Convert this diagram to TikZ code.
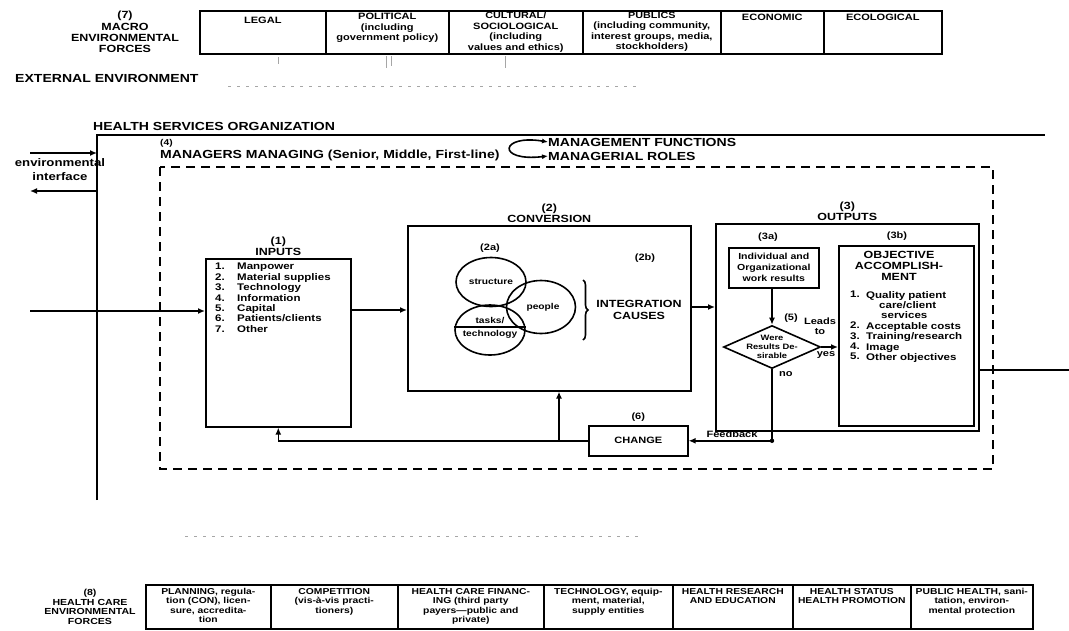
\documentclass[tikz,border=0pt]{standalone}
\usepackage{fontspec}
\setmainfont{Liberation Sans}[FakeStretch=1.2]
\usetikzlibrary{arrows.meta,shapes.geometric,decorations.pathreplacing}
\begin{document}
\begin{tikzpicture}[x=1pt,y=-1pt,
  box/.style={draw, line width=1.6pt, inner sep=0pt},
  ln/.style={line width=1.6pt},
  arr/.style={line width=1.6pt, -{Latex[length=7pt,width=6pt]}},
  hd/.style={font=\bfseries\fontsize{11.7}{13}\selectfont, inner sep=0pt},
  md/.style={font=\bfseries\fontsize{10.4}{11.2}\selectfont, align=center, inner sep=0pt},
  sm/.style={font=\bfseries\fontsize{9.2}{10.5}\selectfont, align=center, inner sep=0pt},
  lst/.style={font=\bfseries\fontsize{9.6}{10.4}\selectfont, align=left, inner sep=0pt},
  faint/.style={gray!70, line width=1pt, dash pattern=on 3pt off 6pt}]
\useasboundingbox (0,0) rectangle (1069,630);
\fill[white] (0,0) rectangle (1069,630);

% ---------- top: macro environmental forces ----------
\node[md] (mlab) at (125,32) {(7)\\MACRO\\ENVIRONMENTAL\\FORCES};
\node[box, minimum width=126pt, minimum height=43pt, anchor=north west] (legal) at (199,10) {};
\node[box, minimum width=123pt, minimum height=43pt, anchor=north west] (polit) at (325,10) {};
\node[box, minimum width=134pt, minimum height=43pt, anchor=north west] (cult) at (448,10) {};
\node[box, minimum width=138pt, minimum height=43pt, anchor=north west] (publ) at (582,10) {};
\node[box, minimum width=103pt, minimum height=43pt, anchor=north west] (econ) at (720,10) {};
\node[box, minimum width=118pt, minimum height=43pt, anchor=north west] (ecol) at (823,10) {};
\node[sm, anchor=north] at ([yshift=-7pt]legal.north) {LEGAL};
\node[sm, anchor=north] at ([yshift=-3pt]polit.north) {\fontsize{9.2}{12}\selectfont POLITICAL\\(including\\government policy)};
\node[sm, anchor=north] at ([yshift=-2pt]cult.north) {\fontsize{9}{10}\selectfont CULTURAL/\\SOCIOLOGICAL\\(including\\values and ethics)};
\node[sm, anchor=north] at ([yshift=-2pt]publ.north) {\fontsize{9}{10}\selectfont PUBLICS\\(including community,\\interest groups, media,\\stockholders)};
\node[sm, anchor=north] at ([yshift=-4pt]econ.north) {ECONOMIC};
\node[sm, anchor=north] at ([yshift=-4pt]ecol.north) {ECOLOGICAL};
\draw[gray!70, line width=1pt] (278,57) -- (278,64) (386,56) -- (386,68) (391,56) -- (391,66) (505,56) -- (505,68);

% ---------- external environment ----------
\node[hd, anchor=west] (ext) at (15,78) {EXTERNAL ENVIRONMENT};
\draw[faint] (228,86) -- (640,86);
\draw[faint] (185,536) -- (640,536);

% ---------- health services organization ----------
\node[hd, anchor=west] (hso) at (93,126) {HEALTH SERVICES ORGANIZATION};
\coordinate (hsoTL) at (97,135);
\coordinate (hsoTR) at (1045,135);
\coordinate (hsoBL) at (97,500);
\draw[ln] (hsoBL) -- (hsoTL) -- (hsoTR);

\node[anchor=west, font=\bfseries\fontsize{8.5}{10}\selectfont, inner sep=0pt] (four) at (160,143) {(4)};
\node[hd, anchor=west] (mgr) at (160,155) {MANAGERS MANAGING (Senior, Middle, First-line)};
\node[hd, anchor=west] (mf) at (548,142) {MANAGEMENT FUNCTIONS};
\node[hd, anchor=west] (mr) at (548,156) {MANAGERIAL ROLES};
\draw[line width=1.6pt, {Latex[length=6pt,width=5pt]}-{Latex[length=6pt,width=5pt]}] (mf.west) .. controls (500,134) and (496,162) .. (mr.west);

% environmental interface
\coordinate (eiIn) at (30,153);
\coordinate (eiOut) at (30,191);
\draw[arr] (eiIn) -- (hsoTL |- eiIn);
\draw[arr] (hsoTL |- eiOut) -- (eiOut);
\node[font=\bfseries\fontsize{11}{14}\selectfont, align=center, inner sep=0pt] (ei) at (60,170) {environmental\\interface};

% dashed managers box
\draw[line width=2.2pt, dash pattern=on 9pt off 6pt] (160,167) rectangle (993,469);

% ---------- inputs ----------
\node[box, minimum width=145pt, minimum height=168pt, anchor=north west] (inp) at (205,258) {};
\node[md, anchor=south] at ([yshift=2pt]inp.north) {(1)\\INPUTS};
\node[lst, anchor=north west] at (215,263) {1.\\2.\\3.\\4.\\5.\\6.\\7.};
\node[lst, anchor=north west] at (237,263) {Manpower\\Material supplies\\Technology\\Information\\Capital\\Patients/clients\\Other};
\coordinate (inStart) at (30,311);
\draw[arr] (inStart) -- (inp.west |- inStart);

% ---------- conversion ----------
\node[box, minimum width=283pt, minimum height=165pt, anchor=north west] (conv) at (407,225) {};
\node[md, anchor=south] at ([yshift=2pt]conv.north) {(2)\\CONVERSION};
\draw[arr] (inp.east |- 0,310) -- (conv.west |- 0,310);
\node[sm] at (490,248) {(2a)};
\node[draw, ln, ellipse, minimum width=70pt, minimum height=49pt] (struct) at (491,282) {};
\node[draw, ln, ellipse, minimum width=69pt, minimum height=53pt] (people) at (541,307) {};
\node[draw, ln, ellipse, minimum width=70pt, minimum height=50pt] (tasks) at (490,330) {};
\node[sm, font=\bfseries\fontsize{8.5}{10}\selectfont] at (struct.center) {structure};
\node[sm, font=\bfseries\fontsize{8.5}{10}\selectfont] at ([xshift=2pt]people.center) {people};
\node[sm, font=\bfseries\fontsize{8.5}{10}\selectfont] at (490,320) {tasks/};
\node[sm, font=\bfseries\fontsize{8.5}{10}\selectfont] at (490,334) {technology};
\draw[ln] (tasks.west |- 0,327) -- (tasks.east |- 0,327);
\node[sm] at (645,258) {(2b)};
\draw[ln, decorate, decoration={brace, amplitude=5pt}] (583,280) -- (583,340);
\node[md] (integ) at (639,310) {INTEGRATION\\CAUSES};

% ---------- outputs ----------
\node[box, minimum width=263pt, minimum height=207pt, anchor=north west] (outp) at (715,223) {};
\node[md, anchor=south] at ([yshift=2pt]outp.north) {(3)\\OUTPUTS};
\draw[arr] (conv.east |- 0,307) -- (outp.west |- 0,307);
\node[sm] at (768,237) {(3a)};
\node[box, minimum width=90pt, minimum height=40pt, anchor=north west, sm, font=\bfseries\fontsize{8.8}{11}\selectfont] (wr) at (728,247) {Individual and\\Organizational\\work results};
\node[sm] at (897,236) {(3b)};
\node[box, minimum width=135pt, minimum height=180pt, anchor=north west] (obj) at (838,245) {};
\node[md, anchor=north] at (899,251) {OBJECTIVE\\ACCOMPLISH-\\MENT};
\node[lst, anchor=north west] at (850,291) {1.\\[20.4pt]2.\\3.\\4.\\5.};
\node[lst, anchor=north west] at (866,291) {Quality patient\\\hspace*{13pt}care/client\\\hspace*{15pt}services\\Acceptable costs\\Training/research\\Image\\Other objectives};

\node[draw, ln, diamond, aspect=2.25, minimum width=97pt, minimum height=43pt, inner sep=0pt] (dec) at (772,347) {};
\node[sm, font=\bfseries\fontsize{7.8}{9}\selectfont] at (dec.center) {Were\\Results De-\\sirable};
\node[sm] at (791,318) {(5)};
\draw[arr] (wr.south -| dec.north) -- (dec.north);
\draw[arr] (dec.east) -- (obj.west |- dec.east);
\node[sm, anchor=south] at (820,335) {Leads\\to};
\node[sm, anchor=north] at (826,351) {yes};
\node[sm, anchor=west] at (779,374) {no};

% ---------- change / feedback ----------
\node[box, minimum width=99pt, minimum height=30pt, anchor=north west, sm] (chg) at (588,425) {CHANGE};
\node[sm, anchor=south] at ([yshift=3pt]chg.north) {(6)};
\coordinate (fbC) at (dec.south |- chg.east);
\draw[ln] (dec.south) -- (fbC);
\fill (fbC) circle (2.2pt);
\draw[arr] (fbC) -- (chg.east);
\node[sm, anchor=south] at (732,438) {Feedback};
\coordinate (fbL) at (inp.south |- chg.west);
\draw[ln] (chg.west) -- (fbL);
\draw[arr] (fbL) -- (inp.south);
\coordinate (cvB) at (conv.south -| 559,0);
\draw[arr] (cvB |- chg.west) -- (cvB);

% output to environment
\draw[ln] (outp.east |- 0,370) -- (1069,370);

% ---------- bottom: health care environmental forces ----------
\node[md, font=\bfseries\fontsize{8.8}{9.6}\selectfont] (hlab) at (90,607) {(8)\\HEALTH CARE\\ENVIRONMENTAL\\FORCES};
\node[box, minimum width=125pt, minimum height=44pt, anchor=north west] (plan) at (145,584) {};
\node[box, minimum width=127pt, minimum height=44pt, anchor=north west] (comp) at (270,584) {};
\node[box, minimum width=146pt, minimum height=44pt, anchor=north west] (fin) at (397,584) {};
\node[box, minimum width=129pt, minimum height=44pt, anchor=north west] (tech) at (543,584) {};
\node[box, minimum width=120pt, minimum height=44pt, anchor=north west] (res) at (672,584) {};
\node[box, minimum width=118pt, minimum height=44pt, anchor=north west] (stat) at (792,584) {};
\node[box, minimum width=122pt, minimum height=44pt, anchor=north west] (pub) at (910,584) {};
\tikzset{bt/.style={sm, font=\bfseries\fontsize{8.6}{9.5}\selectfont, anchor=north}}
\node[bt] at ([yshift=-4pt]plan.north) {PLANNING, regula-\\tion (CON), licen-\\sure, accredita-\\tion};
\node[bt] at ([yshift=-4pt]comp.north) {COMPETITION\\(vis-à-vis practi-\\tioners)};
\node[bt] at ([yshift=-4pt]fin.north) {HEALTH CARE FINANC-\\ING (third party\\payers---public and\\private)};
\node[bt] at ([yshift=-4pt]tech.north) {TECHNOLOGY, equip-\\ment, material,\\supply entities};
\node[bt] at ([yshift=-4pt]res.north) {HEALTH RESEARCH\\AND EDUCATION};
\node[bt] at ([yshift=-4pt]stat.north) {HEALTH STATUS\\HEALTH PROMOTION};
\node[bt] at ([yshift=-4pt]pub.north) {PUBLIC HEALTH, sani-\\tation, environ-\\mental protection};
\end{tikzpicture}
\end{document}
